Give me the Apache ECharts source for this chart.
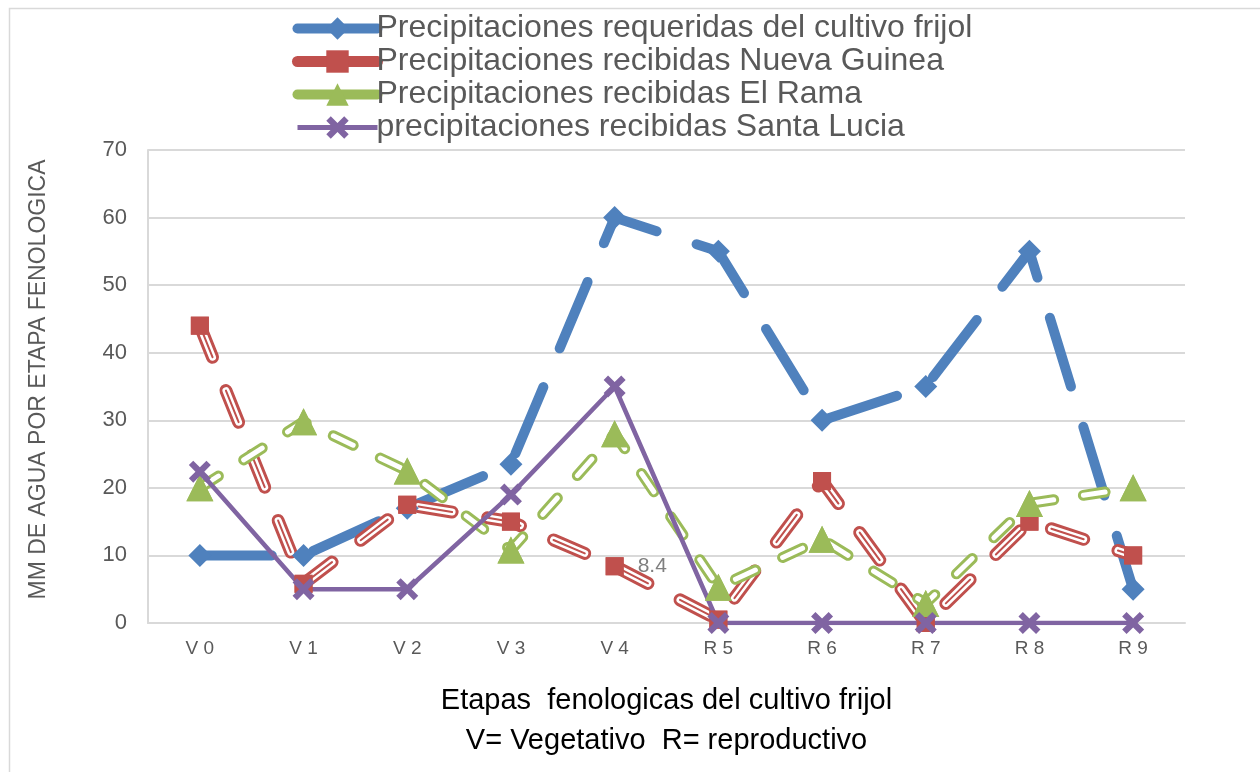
<!DOCTYPE html>
<html>
<head>
<meta charset="utf-8">
<script src="https://cdn.jsdelivr.net/npm/echarts@6/dist/echarts.min.js"></script>
<style>
  html, body { margin: 0; padding: 0; background: #fff; }
  #main { width: 1260px; height: 772px; }
</style>
</head>
<body>
<div id="main"></div>
<script>
var chartDom = document.getElementById('main');
var myChart = echarts.init(chartDom);
var option;

// etapas fenologicas
var etapas = ['V0', 'V1', 'V2', 'V3', 'V4', 'R5', 'R6', 'R7', 'R8', 'R9'];
var yTicks = [0, 10, 20, 30, 40, 50, 60, 70];

var requeridas = [10, 10, 17, 23.5, 60, 55, 30, 35, 55, 5];
var nuevaGuinea = [44, 5.8, 17.5, 15, 8.4, 0.5, 21, 0, 15, 10];
var elRama = [20, 29.8, 22.5, 10.8, 28, 5.3, 12.4, 2.9, 17.7, 20];
var santaLucia = [22.4, 5, 5, 19, 35, 0, 0, 0, 0, 0];

var nombres = [
  'Precipitaciones requeridas del cultivo frijol',
  'Precipitaciones recibidas Nueva Guinea',
  'Precipitaciones recibidas El Rama',
  'precipitaciones recibidas Santa Lucia'
];

var BLUE = '#4f81bd', RED = '#c0504d', GREEN = '#9bbb59', PURPLE = '#8064a2';
var crossPath = 'path://M0,2 L2,0 L5,3 L8,0 L10,2 L7,5 L10,8 L8,10 L5,7 L2,10 L0,8 L3,5 Z';

// only the 8.4 point has a label
var ngData = nuevaGuinea.map(function (v, i) {
  if (i === 4) {
    return { value: v, label: { show: true, position: 'right', distance: 14, color: '#7f7f7f', fontSize: 21, fontFamily: 'Liberation Sans' } };
  }
  return v;
});

function overlay(data, color, width, dash) {
  return {
    type: 'line', name: '_ov', data: data, silent: true, showSymbol: false, symbol: 'none',
    lineStyle: { color: color, width: width, type: dash, cap: 'round', join: 'round' },
    animation: false
  };
}
function markersOnly(data, symbol, size, color) {
  return {
    type: 'line', name: '_mk', data: data, silent: true, symbol: symbol, symbolSize: size,
    itemStyle: { color: color }, lineStyle: { opacity: 0, width: 0 }, animation: false
  };
}

var redDash = [34, 36];
var greenDash = [22, 30];

option = {
  backgroundColor: '#fff',
  textStyle: { fontFamily: 'Liberation Sans' },
  graphic: [{
    type: 'rect', left: 7, top: 6, shape: { width: 1300, height: 800 },
    style: { fill: 'none', stroke: '#d9d9d9', lineWidth: 1.5 }, silent: true
  }],
  legend: {
    data: [
      { name: nombres[0], lineStyle: { width: 10, type: 'solid', cap: 'round' } },
      { name: nombres[1], lineStyle: { width: 11, type: 'solid', cap: 'round' } },
      { name: nombres[2], lineStyle: { width: 10, type: 'solid', cap: 'round' } },
      { name: nombres[3], lineStyle: { width: 5, type: 'solid' } }
    ],
    orient: 'vertical',
    left: 287,
    top: 7,
    itemWidth: 80,
    itemHeight: 28,
    itemGap: 0,
    textStyle: { fontSize: 32, color: '#595959', lineHeight: 33, fontFamily: 'Liberation Sans', padding: [0, 0, 0, -6] }
  },
  grid: { left: 148, right: 75, top: 150, bottom: 149 },
  xAxis: {
    type: 'category',
    data: etapas,
    boundaryGap: true,
    axisLine: { lineStyle: { color: '#d9d9d9', width: 2 } },
    axisTick: { show: false },
    axisLabel: {
      fontSize: 19, color: '#595959', margin: 16,
      formatter: function (v) { return v.charAt(0) + ' ' + v.slice(1); }
    },
    name: 'Etapas  fenologicas del cultivo frijol\nV= Vegetativo  R= reproductivo',
    nameLocation: 'middle',
    nameGap: 58,
    nameTextStyle: { fontSize: 29, color: '#000', lineHeight: 40, fontFamily: 'Liberation Sans' }
  },
  yAxis: {
    type: 'value',
    min: yTicks[0],
    max: yTicks[yTicks.length - 1],
    interval: 10,
    axisLine: { show: true, lineStyle: { color: '#d9d9d9', width: 2 } },
    axisTick: { show: false },
    splitLine: { lineStyle: { color: '#d9d9d9', width: 2 } },
    axisLabel: { fontSize: 22, color: '#595959', margin: 21 },
    name: 'MM DE AGUA POR ETAPA FENOLOGICA',
    nameLocation: 'middle',
    nameRotate: 90,
    nameGap: 98,
    nameTextStyle: { fontSize: 23, color: '#595959', fontFamily: 'Liberation Sans', padding: [0, 0, 0, 14] }
  },
  series: [
    {
      name: nombres[0], type: 'line', data: requeridas,
      symbol: 'diamond', symbolSize: 23,
      itemStyle: { color: BLUE },
      lineStyle: { color: BLUE, width: 10, type: [72, 42], cap: 'round', join: 'round' },
      animation: false
    },
    {
      name: nombres[1], type: 'line', data: ngData,
      symbol: 'rect', symbolSize: 18,
      itemStyle: { color: RED },
      lineStyle: { color: RED, width: 13, type: redDash, cap: 'round', join: 'round' },
      animation: false
    },
    overlay(nuevaGuinea, '#fff', 7, redDash),
    overlay(nuevaGuinea, RED, 2, redDash),
    markersOnly(nuevaGuinea, 'rect', 18, RED),
    {
      name: nombres[2], type: 'line', data: elRama,
      symbol: 'triangle', symbolSize: [27, 27],
      itemStyle: { color: GREEN },
      lineStyle: { color: GREEN, width: 11, type: greenDash, cap: 'round', join: 'round' },
      animation: false
    },
    overlay(elRama, '#fff', 5, greenDash),
    markersOnly(elRama, 'triangle', [27, 27], GREEN),
    {
      name: nombres[3], type: 'line', data: santaLucia,
      symbol: crossPath, symbolSize: 22,
      itemStyle: { color: PURPLE },
      lineStyle: { color: PURPLE, width: 4.5, join: 'round' },
      animation: false
    }
  ]
};

option && myChart.setOption(option);
</script>
</body>
</html>
